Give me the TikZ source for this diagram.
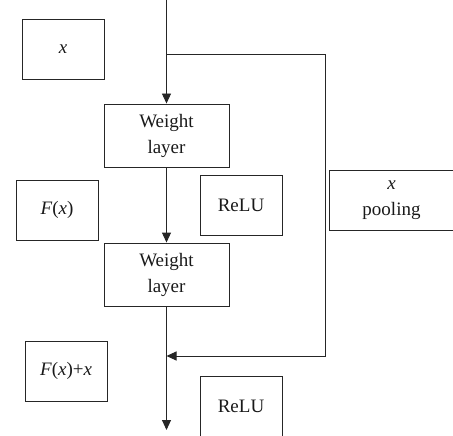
\documentclass[tikz,border=0pt]{standalone}
\usepackage{fontspec}
\setmainfont{Liberation Serif}
\usetikzlibrary{arrows.meta}
\begin{document}
\begin{tikzpicture}[x=1pt,y=-1pt,
  box/.style={draw=black!85, line width=0.9pt, inner sep=0pt, align=center,
    font=\fontsize{19}{26}\selectfont, text=black!90},
  sq/.style={box, minimum width=82pt, minimum height=60pt},
  wl/.style={box, minimum width=125pt, minimum height=63pt},
  conn/.style={draw=black!85, line width=0.9pt},
  arr/.style={conn, -{Triangle[length=10pt,width=9pt]}}]
\useasboundingbox (0,0) rectangle (453,436);
\node[sq] (xbox) at (63,49) {\textit{x}};
\node[wl] (w1) at (166.5,135.5) {Weight\\layer};
\node[sq] (fx) at (57,210) {\textit{F}(\textit{x})};
\node[sq] (relu1) at (241,205) {ReLU};
\node[box, minimum width=125pt, minimum height=60pt] (pool) at (391.5,200) {\textit{x}\\pooling};
\node[wl] (w2) at (166.5,274.5) {Weight\\layer};
\node[sq] (fxx) at (66,371) {\textit{F}(\textit{x})+\textit{x}};
\node[sq] (relu2) at (241,406) {ReLU};
\coordinate (top) at (166.5,0);
\coordinate (split) at (166.5,54);
\coordinate (c1) at (325,54);
\coordinate (c2) at (325,356);
\coordinate (join) at (166.5,356);
\coordinate (bot) at (166.5,430);
\draw[arr] (top) -- (w1.north);
\draw[arr] (split) -- (c1) -- (c2) -- (join);
\draw[arr] (w1.south) -- (w2.north);
\draw[arr] (w2.south) -- (bot);
\end{tikzpicture}
\end{document}
